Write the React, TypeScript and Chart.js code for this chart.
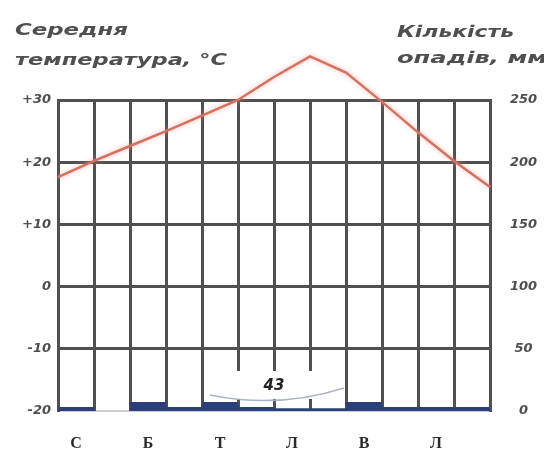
import React, { useEffect, useRef } from 'react';
import { Chart, registerables } from 'chart.js';

Chart.register(...registerables);

// Month initials (Ukrainian), every other one is shown on the axis
const months = ['С', 'Л', 'Б', 'К', 'Т', 'Ч', 'Л', 'С', 'В', 'Ж', 'Л', 'Г'];
// Monthly precipitation, mm
const precipitation = [3, 0, 7, 3, 7, 3, 2, 2, 7, 3, 3, 3];
// Temperature read at month boundaries (0 = start of January, 12 = end of December)
const tempPositions = [0, 1, 2, 3, 4, 5, 6, 7, 8, 9, 10, 11, 12];
const temperature = [17.6, 20.2, 22.6, 25.0, 27.5, 30.0, 33.7, 37.0, 34.4, 29.7, 24.8, 20.2, 16.0];
// Axis ticks
const tempTicks = [-20, -10, 0, 10, 20, 30];
const precipTicks = [0, 50, 100, 150, 200, 250];
// Titles
const titleLeft = ['Середня', 'температура, °С'];
const titleRight = ['Кількість', 'опадів, мм'];

const GRID = '#505050';
const TEXT = '#4f4f4f';
const tickFont = { family: '"DejaVu Sans"', size: 13, weight: 'bold' as const, style: 'italic' as const };

const titlesPlugin = {
  id: 'titles',
  afterDraw(chart: any) {
    const ctx = chart.ctx as CanvasRenderingContext2D;
    const drawStretched = (text: string, x: number, y: number, w: number, size: number) => {
      ctx.save();
      ctx.font = `italic bold ${size}px "DejaVu Sans"`;
      const m = ctx.measureText(text).width;
      ctx.translate(x, y);
      ctx.scale(w / m, 1);
      ctx.fillStyle = TEXT;
      ctx.textAlign = 'left';
      ctx.textBaseline = 'alphabetic';
      ctx.fillText(text, 0, 0);
      ctx.restore();
    };
    drawStretched(titleLeft[0], 15, 35, 113, 15);
    drawStretched(titleLeft[1], 15, 65, 212, 15);
    drawStretched(titleRight[0], 397, 37, 117, 15);
    drawStretched(titleRight[1], 397, 63, 150, 15);
  },
};

const annotationPlugin = {
  id: 'totalNote',
  beforeDatasetsDraw(chart: any) {
    const { ctx, chartArea, scales } = chart;
    const cx = scales.x2.getPixelForValue(6);
    const b = chartArea.bottom;
    const total = precipitation.reduce((a: number, v: number) => a + v, 0);
    ctx.save();
    ctx.fillStyle = '#ffffff';
    ctx.fillRect(cx - 66, b - 40, 132, 28);
    ctx.strokeStyle = 'rgba(160,172,195,0.9)';
    ctx.lineWidth = 1.5;
    ctx.beginPath();
    ctx.moveTo(cx - 64, b - 16);
    ctx.quadraticCurveTo(cx + 5, b - 2, cx + 70, b - 23);
    ctx.stroke();
    ctx.font = 'italic bold 15px "DejaVu Sans"';
    ctx.fillStyle = '#222';
    ctx.textAlign = 'center';
    ctx.textBaseline = 'middle';
    ctx.fillText(String(total), cx, b - 25);
    ctx.restore();
  },
  beforeDatasetDraw(chart: any, args: any) {
    if (args.index === 0) {
      const ctx = chart.ctx;
      ctx.save();
      ctx.shadowColor = 'rgba(240,150,150,0.7)';
      ctx.shadowBlur = 5;
    }
  },
  afterDatasetDraw(chart: any, args: any) {
    if (args.index === 0) chart.ctx.restore();
  },
};

export default function App() {
  const ref = useRef<HTMLCanvasElement>(null);
  useEffect(() => {
    document.body.style.margin = '0';
    const canvas = ref.current!;
    const chart = new Chart(canvas, {
      type: 'bar',
      data: {
        labels: months,
        datasets: [
          {
            type: 'line',
            data: tempPositions.map((x, i) => ({ x, y: temperature[i] })),
            xAxisID: 'x2',
            yAxisID: 'y',
            borderColor: '#d9705c',
            borderWidth: 2.5,
            pointRadius: 0,
            tension: 0,
            clip: false as any,
          } as any,
          {
            type: 'bar',
            data: precipitation,
            xAxisID: 'x',
            yAxisID: 'y1',
            backgroundColor: '#2c3f7c',
            barPercentage: 1,
            categoryPercentage: 1,
            grouped: false,
          },
        ],
      },
      options: {
        responsive: false,
        animation: false,
        layout: { padding: { top: 100, left: 0, right: 0, bottom: 0 } },
        plugins: { legend: { display: false }, tooltip: { enabled: false } },
        scales: {
          x: {
            type: 'category',
            offset: true,
            grid: { offset: true, color: GRID, lineWidth: 3, drawTicks: false },
            border: { display: false },
            ticks: {
              padding: 23,
              color: '#2a2a2a',
              font: { family: '"Liberation Serif"', size: 16, weight: 'bold' },
              autoSkip: false,
              maxRotation: 0,
              callback: (_v: any, i: number) => (i % 2 === 0 ? months[i] : ''),
            },
            afterFit: (s: any) => { s.height = 41; },
          },
          x2: {
            type: 'linear',
            display: false,
            offset: false,
            bounds: 'data',
            min: tempPositions[0],
            max: tempPositions[tempPositions.length - 1],
          },
          y: {
            type: 'linear',
            position: 'left',
            min: tempTicks[0],
            max: tempTicks[tempTicks.length - 1],
            afterBuildTicks: (s: any) => { s.ticks = tempTicks.map((v) => ({ value: v })); },
            grid: {
              drawTicks: false,
              color: (c: any) => (c.tick && c.tick.value === tempTicks[0] ? '#d0d0d0' : GRID),
              lineWidth: (c: any) => (c.tick && c.tick.value === tempTicks[0] ? 1 : 3),
            },
            border: { display: true, color: GRID, width: 3 },
            ticks: {
              padding: 7,
              color: TEXT,
              font: tickFont,
              callback: (v: any) => (v > 0 ? '+' + v : String(v)),
            },
            afterFit: (s: any) => { s.width = 58; },
          },
          y1: {
            type: 'linear',
            position: 'right',
            min: precipTicks[0],
            max: precipTicks[precipTicks.length - 1],
            afterBuildTicks: (s: any) => { s.ticks = precipTicks.map((v) => ({ value: v })); },
            grid: { display: false, drawTicks: false },
            border: { display: true, color: GRID, width: 3 },
            ticks: {
              padding: 20,
              crossAlign: 'center',
              color: TEXT,
              font: tickFont,
            },
            afterFit: (s: any) => { s.width = 54; },
          },
        },
      } as any,
      plugins: [annotationPlugin, titlesPlugin],
    });
    return () => chart.destroy();
  }, []);
  return (
    <div style={{ width: 544, height: 452, background: '#fff' }}>
      <canvas ref={ref} width={544} height={452} style={{ display: 'block' }} />
    </div>
  );
}
